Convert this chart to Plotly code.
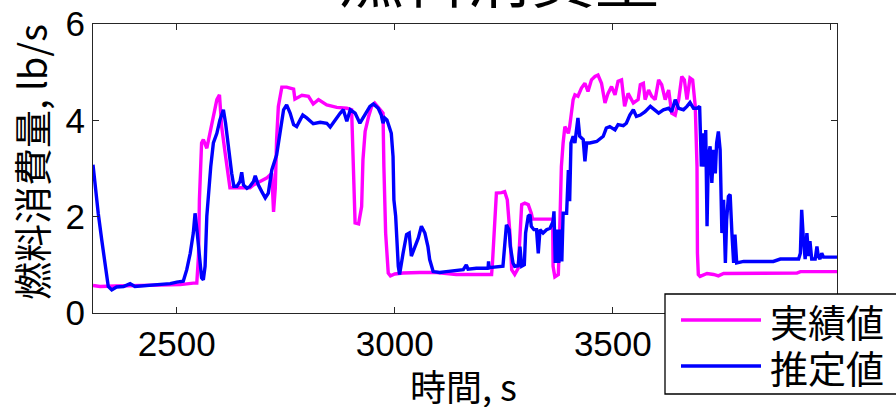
import plotly.graph_objects as go

# ---------------- data ----------------
actual_t = [2308, 2324, 2360, 2420, 2480, 2508, 2538, 2546, 2550, 2552, 2557, 2561, 2569, 2573,
            2584, 2592, 2598, 2603, 2611, 2622, 2668, 2676, 2691, 2706, 2718, 2722, 2726, 2729,
            2733, 2741, 2752, 2768, 2771, 2787, 2802, 2813, 2825, 2844, 2867, 2890, 2901, 2905,
            2909, 2917, 2924, 2927, 2932, 2940, 2947, 2954, 2966, 2973, 2975, 2979, 2985, 2990,
            3000, 3019, 3057, 3096, 3141, 3172, 3222, 3224, 3229, 3233, 3245, 3252, 3258, 3264,
            3268, 3275, 3283, 3287, 3291, 3298, 3306, 3313, 3316, 3362, 3363, 3367, 3375, 3378,
            3382, 3386, 3390, 3398, 3401, 3409, 3413, 3420, 3428, 3436, 3443, 3451, 3459, 3466,
            3474, 3482, 3489, 3497, 3505, 3512, 3520, 3527, 3535, 3547, 3558, 3563, 3570, 3574,
            3582, 3589, 3597, 3605, 3612, 3620, 3628, 3635, 3643, 3651, 3658, 3664, 3670, 3677,
            3683, 3689, 3693, 3694, 3696, 3700, 3716, 3731, 3742, 3754, 3792, 3868, 3922, 3930,
            4014]
actual_v = [0.57, 0.55, 0.56, 0.57, 0.58, 0.59, 0.62, 0.62, 1.20, 2.35, 3.53, 3.60, 3.42, 3.60,
            4.01, 4.43, 4.53, 3.87, 3.32, 2.60, 2.60, 2.66, 2.73, 2.80, 2.90, 2.10, 2.59, 3.60,
            4.29, 4.69, 4.69, 4.65, 4.44, 4.52, 4.50, 4.34, 4.43, 4.32, 4.27, 4.25, 4.22, 2.90,
            1.87, 1.85, 2.21, 3.18, 3.77, 4.08, 4.29, 4.36, 4.22, 4.15, 3.04, 1.66, 0.83, 0.77,
            0.81, 0.83, 0.84, 0.84, 0.80, 0.80, 0.80, 1.04, 2.07, 2.49, 2.50, 2.52, 2.35, 1.66,
            0.90, 0.80, 0.93, 1.66, 2.25, 2.28, 2.25, 2.07, 1.95, 1.95, 0.97, 0.75, 0.80, 1.66,
            3.04, 3.53, 3.87, 3.73, 3.87, 4.43, 4.53, 4.50, 4.67, 4.77, 4.60, 4.84, 4.91, 4.94,
            4.77, 4.36, 4.56, 4.70, 4.53, 4.81, 4.84, 4.29, 4.56, 4.36, 4.43, 4.74, 4.77, 4.43,
            4.63, 4.50, 4.43, 4.84, 4.74, 4.43, 4.63, 4.15, 4.11, 4.43, 4.91, 4.84, 4.43, 4.88,
            4.84, 4.29, 3.04, 1.24, 0.80, 0.76, 0.82, 0.80, 0.77, 0.82, 0.82, 0.82, 0.83, 0.86,
            0.86]

est_t = [2308, 2313, 2320, 2328, 2336, 2343, 2351, 2362, 2378, 2393, 2404, 2431, 2454, 2485,
         2500, 2515, 2523, 2531, 2538, 2542, 2547, 2554, 2557, 2561, 2565, 2569, 2573, 2578,
         2584, 2592, 2599, 2607, 2612, 2618, 2626, 2631, 2638, 2645, 2649, 2653, 2661, 2668,
         2676, 2680, 2687, 2695, 2703, 2710, 2718, 2729, 2737, 2745, 2752, 2760, 2768, 2775,
         2783, 2789, 2798, 2813, 2829, 2844, 2852, 2863, 2875, 2882, 2890, 2898, 2909, 2920,
         2932, 2943, 2951, 2962, 2969, 2973, 2977, 2982, 2987, 2992, 2996, 2998, 3002, 3005,
         3008, 3011, 3015, 3019, 3027, 3033, 3038, 3046, 3054, 3061, 3069, 3076, 3080, 3088,
         3103, 3118, 3141, 3157, 3164, 3168, 3187, 3214, 3215, 3216, 3248, 3252, 3256, 3262,
         3265, 3271, 3275, 3283, 3287, 3291, 3297, 3300, 3306, 3310, 3313, 3319, 3325, 3329,
         3333, 3340, 3348, 3356, 3363, 3365, 3368, 3372, 3376, 3380, 3383, 3386, 3394, 3398,
         3401, 3404, 3409, 3413, 3417, 3420, 3424, 3432, 3436, 3440, 3447, 3463, 3478, 3485,
         3493, 3505, 3512, 3524, 3531, 3539, 3547, 3554, 3563, 3574, 3586, 3597, 3605, 3616,
         3628, 3635, 3643, 3651, 3662, 3670, 3677, 3685, 3693, 3699, 3700, 3703, 3707, 3710,
         3713, 3716, 3719, 3723, 3727, 3731, 3735, 3738, 3742, 3746, 3750, 3754, 3758, 3761,
         3765, 3769, 3773, 3777, 3780, 3784, 3800, 3830, 3868, 3884, 3926, 3930, 3933, 3937,
         3941, 3945, 3949, 3952, 3956, 3964, 3968, 3971, 3975, 3979, 3983, 3990, 4014]
est_v = [3.08, 2.63, 2.07, 1.52, 1.04, 0.55, 0.48, 0.54, 0.55, 0.61, 0.55, 0.57, 0.59, 0.61,
         0.64, 0.66, 0.90, 1.24, 1.66, 2.07, 1.66, 0.97, 0.73, 0.69, 0.97, 2.01, 2.49, 3.04,
         3.53, 3.73, 4.01, 4.22, 3.94, 3.46, 2.90, 2.63, 2.63, 2.73, 2.92, 2.66, 2.59, 2.63,
         2.73, 2.85, 2.66, 2.52, 2.39, 2.49, 2.97, 3.28, 3.73, 4.22, 4.32, 4.15, 3.91, 3.87,
         4.01, 4.11, 4.05, 3.93, 3.96, 3.94, 3.86, 4.01, 4.15, 4.22, 3.98, 4.22, 4.15, 3.94,
         4.11, 4.29, 4.34, 4.25, 4.11, 3.94, 4.05, 4.01, 3.87, 3.73, 3.25, 2.35, 2.01, 1.31,
         0.97, 0.80, 1.04, 1.24, 1.63, 1.66, 1.18, 1.38, 1.56, 1.80, 1.66, 1.38, 1.11, 0.86,
         0.84, 0.86, 0.88, 0.90, 1.00, 0.91, 0.93, 0.93, 1.07, 0.94, 0.97, 1.45, 1.83, 1.73,
         1.38, 1.04, 0.97, 0.98, 1.38, 0.97, 1.00, 1.66, 2.01, 2.04, 1.80, 1.73, 1.73, 1.24,
         1.73, 1.66, 1.73, 1.76, 1.90, 2.11, 1.04, 1.73, 1.04, 1.73, 1.07, 2.07, 2.07, 2.97,
         2.32, 3.53, 3.67, 3.53, 3.87, 4.05, 3.67, 3.60, 3.15, 3.53, 3.53, 3.56, 3.67, 3.84,
         3.87, 3.80, 3.91, 3.89, 3.94, 4.11, 4.22, 4.08, 4.11, 4.18, 4.29, 4.22, 4.15, 4.22,
         4.25, 4.18, 4.43, 4.25, 4.22, 4.29, 4.37, 4.25, 4.25, 4.29, 3.73, 3.04, 3.73, 3.04,
         3.80, 1.80, 3.25, 3.46, 2.70, 3.39, 2.90, 3.53, 3.77, 3.39, 1.66, 2.35, 1.04, 1.94,
         2.42, 2.46, 1.66, 1.04, 1.63, 1.04, 1.07, 1.07, 1.07, 1.12, 1.12, 1.24, 2.14, 1.52,
         1.12, 1.66, 1.18, 1.49, 1.12, 1.12, 1.38, 1.18, 1.12, 1.24, 1.16, 1.16, 1.16]

series_names = ["実績値", "推定値"]
series_colors = ["#FF00FF", "#0000FF"]
x_ticks = [2500, 3000, 3500, 4000]
x_tick_text = ["2500", "3000", "3500", ""]
y_ticks = [0, 2, 4, 6]
title_text = "燃料消費量"
x_title = "時間, s"
y_title = "燃料消費量, lb/s"

# ---------------- layout geometry ----------------
W, H = 896, 407
L, R, T, B = 93, 837, 24, 313
FONT = "Liberation Sans, Arial, Noto Sans CJK JP, sans-serif"
CJK = "Noto Sans CJK JP, Liberation Sans, sans-serif"


def px(x):
    return (x - L) / (R - L)


def py(y):
    return (B - y) / (B - T)


fig = go.Figure()
fig.add_trace(go.Scatter(x=actual_t, y=actual_v, mode="lines", name=series_names[0],
                         line=dict(color=series_colors[0], width=3.4), showlegend=False))
fig.add_trace(go.Scatter(x=est_t, y=est_v, mode="lines", name=series_names[1],
                         line=dict(color=series_colors[1], width=3.4), showlegend=False))

axis_common = dict(showline=True, linecolor="#262626", linewidth=1.3, mirror="ticks",
                   ticks="inside", ticklen=6, tickcolor="#262626", tickwidth=1,
                   showgrid=False, zeroline=False,
                   tickfont=dict(family=FONT, size=35, color="#000"))

fig.update_xaxes(range=[2308, 4014], tickvals=x_ticks, ticktext=x_tick_text, **axis_common)
fig.update_yaxes(range=[0, 6], tickvals=y_ticks, ticktext=[str(v) for v in y_ticks], **axis_common)

shapes = []
annotations = []

# legend box (manual, matching the original's long line samples)
shapes.append(dict(type="rect", xref="paper", yref="paper",
                   x0=px(665), x1=px(910), y0=py(394), y1=py(294),
                   line=dict(color="#000", width=1.3), fillcolor="white", layer="above"))
for i, (nm, col) in enumerate(zip(series_names, series_colors)):
    yy = [320, 366][i]
    shapes.append(dict(type="line", xref="paper", yref="paper",
                       x0=px(681), x1=px(761), y0=py(yy), y1=py(yy),
                       line=dict(color=col, width=3.5), layer="above"))
    annotations.append(dict(text=nm, xref="paper", yref="paper", x=px(768), y=py(yy),
                            xanchor="left", yanchor="middle", showarrow=False,
                            font=dict(family=CJK, size=38, color="#000")))

# title (mostly outside the canvas, as in the original)
annotations.append(dict(text=title_text, xref="paper", yref="paper", x=px(499), y=py(-26),
                        xanchor="center", yanchor="middle", showarrow=False,
                        font=dict(family=CJK, size=64, color="#000")))
# axis titles
annotations.append(dict(text=x_title, xref="paper", yref="paper", x=px(463), y=py(385),
                        xanchor="center", yanchor="middle", showarrow=False,
                        font=dict(family=CJK, size=36, color="#000")))
annotations.append(dict(text=y_title, xref="paper", yref="paper", x=px(30), y=py(162),
                        xanchor="center", yanchor="middle", showarrow=False, textangle=-90,
                        font=dict(family=CJK, size=38, color="#000")))

fig.update_layout(width=W, height=H,
                  margin=dict(l=L, r=W - R, t=T, b=H - B, pad=0, autoexpand=False),
                  paper_bgcolor="white", plot_bgcolor="white",
                  shapes=shapes, annotations=annotations, showlegend=False)

fig.write_html("out.html")
